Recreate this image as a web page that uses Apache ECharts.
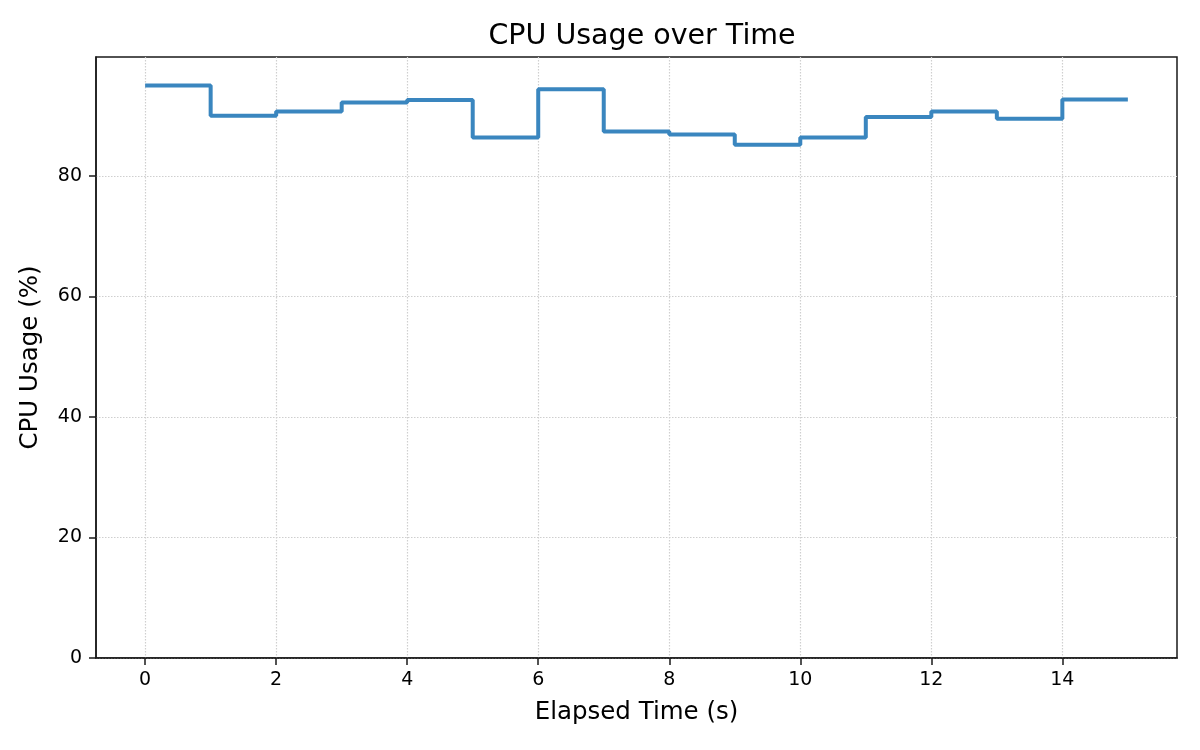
<!DOCTYPE html>
<html>
<head>
<meta charset="utf-8">
<title>CPU Usage over Time</title>
<script src="https://cdn.jsdelivr.net/npm/echarts@6/dist/echarts.min.js"></script>
<style>
    html, body { margin: 0; padding: 0; background: #fff; }
    #cpu_chart { width: 1200px; height: 750px; }
</style>
</head>
<body>
<div id="cpu_chart"></div>
<script>
// elapsed seconds and cpu usage
var times = [0, 1, 2, 3, 4, 5, 6, 7, 8, 9, 10, 11, 12, 13, 14, 15];
var cpuUsage = [95.0, 90.0, 90.7, 92.2, 92.6, 86.4, 94.4, 87.4, 86.9, 85.2, 86.4, 89.8, 90.7, 89.5, 92.7, 92.7];
var xTicks = [0, 2, 4, 6, 8, 10, 12, 14];
var yTicks = [0, 20, 40, 60, 80];

var initChart = function () {
    var chart = echarts.init(document.getElementById('cpu_chart'));
    var font = 'DejaVu Sans';
    var axisColor = '#1a1a1a';
    var gridLine = { color: '#cfcfcf', width: 1.2, type: [1.5, 1.5] };

    var points = [];
    for (var i = 0; i < times.length; i++) {
        points.push([times[i], cpuUsage[i]]);
    }

    var option = {
        animation: false,
        backgroundColor: '#fff',
        title: {
            text: 'CPU Usage over Time',
            left: 637,
            textAlign: 'center',
            top: 17,
            textStyle: { fontFamily: font, fontSize: 28.5, fontWeight: 'normal', color: '#000' }
        },
        grid: {
            left: 96,
            right: 23,
            top: 57,
            bottom: 92,
            show: true,
            borderColor: axisColor,
            borderWidth: 1.5,
            containLabel: false
        },
        xAxis: {
            type: 'value',
            min: -0.75,
            max: 15.75,
            name: 'Elapsed Time (s)',
            nameLocation: 'middle',
            nameGap: 42,
            nameTextStyle: { fontFamily: font, fontSize: 24.5, color: '#000' },
            axisLine: { show: true, onZero: false, lineStyle: { color: axisColor, width: 1.5 } },
            axisTick: { show: true, length: 7, customValues: xTicks, lineStyle: { color: axisColor, width: 1.5 } },
            axisLabel: { customValues: xTicks, margin: 13, fontFamily: font, fontSize: 19, color: '#000' },
            splitLine: { show: true, lineStyle: gridLine }
        },
        yAxis: {
            type: 'value',
            min: 0,
            max: 99.75,
            name: 'CPU Usage (%)',
            nameLocation: 'middle',
            nameGap: 53,
            nameTextStyle: { fontFamily: font, fontSize: 24.5, color: '#000' },
            axisLine: { show: true, onZero: false, lineStyle: { color: axisColor, width: 1.5 } },
            axisTick: { show: true, length: 7, customValues: yTicks, lineStyle: { color: axisColor, width: 1.5 } },
            axisLabel: { customValues: yTicks, margin: 14, fontFamily: font, fontSize: 19, color: '#000' },
            splitLine: { show: true, lineStyle: gridLine }
        },
        series: [
            {
                name: 'CPU Usage',
                type: 'line',
                step: 'end',
                showSymbol: false,
                lineStyle: { color: '#3a86bf', width: 4 },
                data: points
            }
        ]
    };
    chart.setOption(option);
};

initChart();
</script>
</body>
</html>
